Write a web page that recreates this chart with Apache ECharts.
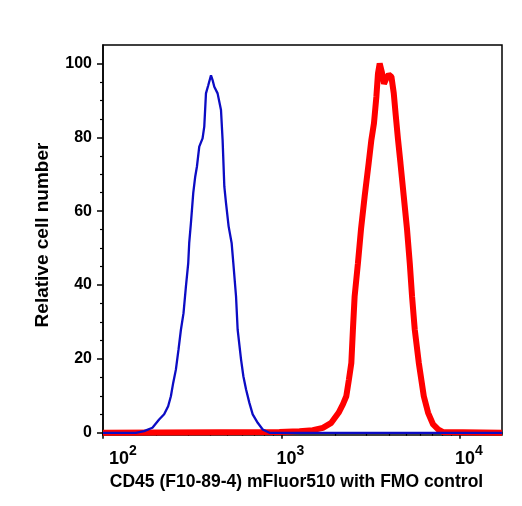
<!DOCTYPE html>
<html>
<head>
<meta charset="utf-8">
<script src="https://cdn.jsdelivr.net/npm/echarts@6/dist/echarts.min.js"></script>
<style>
  html, body { margin: 0; padding: 0; background: #fff; }
  #main { width: 522px; height: 506px; }
</style>
</head>
<body>
<div id="main"></div>
<script>
// FMO control (blue) - fluorescence intensity and relative count
var blueX = [100, 152.7, 169.9, 189.2, 206.3, 220.1, 231.8, 240.1, 247.4, 256.1, 264.9, 273.3, 282.6, 291.5,
    300.3, 304.2, 311.0, 320.4, 328.8, 336.1, 346.3, 361.4, 369.4, 377.6, 389.0, 402.9, 411.2, 420.4,
    438.7, 458.4, 468.0, 478.5, 489.1, 505.8, 525.8, 537.5, 556.6, 568.3, 593.9, 611.8, 633.6, 661.2,
    690.1, 736.1, 785.2, 856.2, 17220];
var blueY = [0, 0, 0.45, 1.35, 3.6, 5.0, 7.2, 9.9, 13.5, 17.1, 22.5, 27.9, 32.4, 39.6,
    45.9, 51.4, 56.8, 64.9, 69.4, 72.1, 77.5, 79.7, 82.9, 91.9, 94.1, 96.8, 95.5, 93.7,
    91.9, 87.4, 79.3, 66.7, 62.2, 55.9, 51.4, 45.9, 36.9, 27.9, 19.8, 15.3, 11.7, 8.1,
    5.0, 2.7, 0.9, 0, 0];

// CD45 mFluor510 stained (red)
var redX = [100, 974.5, 1262, 1499, 1706, 1902, 2090, 2210, 2309, 2388, 2464, 2515, 2571, 2683, 2790,
    2926, 3082, 3191, 3300, 3404, 3475, 3553, 3660, 3756, 3874, 3992, 4134, 4259, 4370, 4503,
    4645, 4847, 5058, 5238, 5395, 5587, 5886, 6278, 6635, 7079, 7553, 8057, 17220];
var redY = [0, 0.2, 0.45, 0.7, 1.35, 2.7, 5.4, 7.7, 9.9, 14.4, 18.9, 27.9, 36.9, 45.9, 55.0,
    64.0, 73.0, 79.3, 83.8, 91.0, 97.3, 100, 97.5, 94.5, 96.0, 97.0, 96.4, 92.0, 86.0, 79.3,
    73.0, 64.0, 55.0, 45.9, 36.9, 27.9, 18.9, 9.9, 5.4, 2.25, 0.9, 0.2, 0];

var xMajor = [2, 3, 4];
var yMajor = [0, 20, 40, 60, 80, 100];

var myChart = echarts.init(document.getElementById('main'));

function toPairs(xs, ys) {
    return xs.map(function (x, i) { return [Math.log10(x), ys[i]]; });
}

var xMinor = [];
[2, 3].forEach(function (d) {
    for (var k = 2; k <= 9; k++) xMinor.push(d + Math.log10(k));
});
xMinor.push(4 + Math.log10(2));  // 10^4 decade is cut off at ~17000

var yMinor = [];
for (var v = 5; v < 100; v += 5) {
    if (v % 20 !== 0) yMinor.push(v);
}

var fontFam = '"Liberation Sans", Arial, Helvetica, sans-serif';
var xMin = 2, xMax = 4.236;
var yMin = -0.6, yMax = 105;

var option = {
    animation: false,
    grid: {
        left: 103,
        right: 20,
        top: 45,
        bottom: 71,
        show: true,
        borderColor: '#000',
        borderWidth: 1.5
    },
    xAxis: [{
        type: 'value',
        min: xMin,
        max: xMax,
        position: 'bottom',
        name: 'CD45 (F10-89-4) mFluor510 with FMO control',
        nameLocation: 'middle',
        nameGap: 37,
        nameTextStyle: { fontFamily: fontFam, fontWeight: 'bold', fontSize: 17.5, color: '#000', padding: [0, 12, 0, 0] },
        axisLine: { show: true, lineStyle: { color: '#000', width: 1.5 } },
        axisTick: { show: true, customValues: xMajor, length: 6, lineStyle: { color: '#000', width: 1.5 } },
        axisLabel: {
            customValues: xMajor,
            margin: 9,
            padding: [0, 0, 0, 18],
            formatter: function (val) {
                var e = Math.round(val);
                // the first decade label sits further right in the original
                return (e === 2 ? '{p|}' : '') + '{b|10}{s|' + e + '}';
            },
            rich: {
                p: { width: 22, lineHeight: 24 },
                b: { fontFamily: fontFam, fontWeight: 'bold', fontSize: 18, color: '#000', verticalAlign: 'bottom', lineHeight: 24 },
                s: { fontFamily: fontFam, fontWeight: 'bold', fontSize: 14, color: '#000', verticalAlign: 'top', lineHeight: 24 }
            }
        },
        splitLine: { show: false }
    }, {
        type: 'value',
        min: xMin,
        max: xMax,
        position: 'bottom',
        axisLine: { show: false },
        axisTick: { show: true, customValues: xMinor, length: 3, lineStyle: { color: '#000', width: 1.2 } },
        axisLabel: { show: false },
        splitLine: { show: false }
    }],
    yAxis: [{
        type: 'value',
        min: yMin,
        max: yMax,
        name: 'Relative cell number',
        nameLocation: 'middle',
        nameGap: 51,
        nameTextStyle: { fontFamily: fontFam, fontWeight: 'bold', fontSize: 19, color: '#000', padding: [0, 0, 0, 10] },
        axisLine: { show: true, lineStyle: { color: '#000', width: 1.5 } },
        axisTick: { show: true, customValues: yMajor, length: 6, lineStyle: { color: '#000', width: 1.5 } },
        axisLabel: {
            customValues: yMajor,
            margin: 11,
            fontFamily: fontFam,
            fontWeight: 'bold',
            fontSize: 16,
            color: '#000'
        },
        splitLine: { show: false }
    }, {
        type: 'value',
        min: yMin,
        max: yMax,
        position: 'left',
        axisLine: { show: false },
        axisTick: { show: true, customValues: yMinor, length: 3, lineStyle: { color: '#000', width: 1.2 } },
        axisLabel: { show: false },
        splitLine: { show: false }
    }],
    series: [{
        name: 'CD45',
        type: 'line',
        data: toPairs(redX, redY),
        showSymbol: false,
        lineStyle: { color: '#ff0000', width: 6 },
        z: 2
    }, {
        name: 'FMO',
        type: 'line',
        data: toPairs(blueX, blueY),
        showSymbol: false,
        lineStyle: { color: '#0c0cc4', width: 2.3 },
        z: 3
    }]
};

myChart.setOption(option);
</script>
</body>
</html>
